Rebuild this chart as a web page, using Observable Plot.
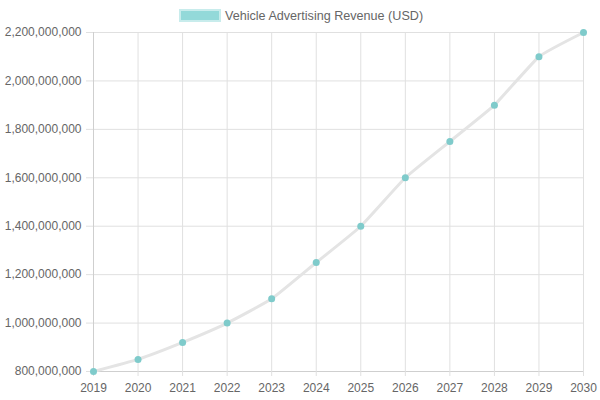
<!DOCTYPE html>
<html>
<head>
<meta charset="utf-8">
<script src="https://cdn.jsdelivr.net/npm/d3@7"></script>
<script src="https://cdn.jsdelivr.net/npm/@observablehq/plot@0.6"></script>
<style>
  html, body { margin: 0; padding: 0; overflow: hidden; background: #fff; font-family: "Liberation Sans", Arial, Helvetica, sans-serif; }
  #wrap { position: relative; width: 600px; height: 400px; overflow: hidden; }
  #chart svg { display: block; max-width: none; }
  #legend .box { position: absolute; left: 179px; top: 9px; width: 42px; height: 13px; box-sizing: border-box; background: #93d9d9; border: 2px solid #c8ecec; }
  #legend .label { position: absolute; left: 225px; top: 15.5px; transform: translateY(-50%); font-size: 12.6px; line-height: 1; color: #666; white-space: nowrap; }
</style>
</head>
<body>
<div id="wrap">
  <div id="chart"></div>
  <div id="legend"><span class="box"></span><span class="label">Vehicle Advertising Revenue (USD)</span></div>
</div>
<script>
const years = [2019, 2020, 2021, 2022, 2023, 2024, 2025, 2026, 2027, 2028, 2029, 2030];
const revenue = [800000000, 850000000, 920000000, 1000000000, 1100000000, 1250000000, 1400000000, 1600000000, 1750000000, 1900000000, 2100000000, 2200000000];
const yTicks = [800000000, 1000000000, 1200000000, 1400000000, 1600000000, 1800000000, 2000000000, 2200000000];
const seriesName = "Vehicle Advertising Revenue (USD)";

const data = years.map((y, i) => ({year: y, value: revenue[i]}));

const chart = Plot.plot({
  width: 600,
  height: 400,
  marginLeft: 93,
  marginRight: 17,
  marginTop: 32,
  marginBottom: 29,
  style: {fontFamily: "'Liberation Sans', Arial, Helvetica, sans-serif", fontSize: "12px", color: "#666", background: "#fff", maxWidth: "none"},
  x: {type: "point", domain: years, padding: 0, round: false},
  y: {domain: [800000000, 2200000000]},
  marks: [
    Plot.gridY(yTicks, {stroke: "#e0e0e0", strokeOpacity: 1}),
    Plot.gridX(years, {stroke: "#e0e0e0", strokeOpacity: 1}),
    Plot.ruleX([years[0]], {stroke: "#cfcfcf"}),
    Plot.ruleY([800000000], {stroke: "#cfcfcf"}),
    Plot.axisY(yTicks, {tickSize: 7, tickPadding: 5, stroke: "#e0e0e0", strokeOpacity: 1, tickFormat: d3.format(","), label: null, fill: "#666", fontSize: 12}),
    Plot.axisX(years, {tickSize: 5, tickPadding: 7, stroke: "#e0e0e0", strokeOpacity: 1, tickFormat: d => String(d), label: null, fill: "#666", fontSize: 12}),
    Plot.line(data, {x: "year", y: "value", stroke: "#e4e4e4", strokeWidth: 3, curve: "cardinal", tension: 0.6}),
    Plot.dot(data, {x: "year", y: "value", r: 3.5, fill: "#7fcbcb", stroke: "none"})
  ]
});
document.getElementById("chart").appendChild(chart);
</script>
</body>
</html>
